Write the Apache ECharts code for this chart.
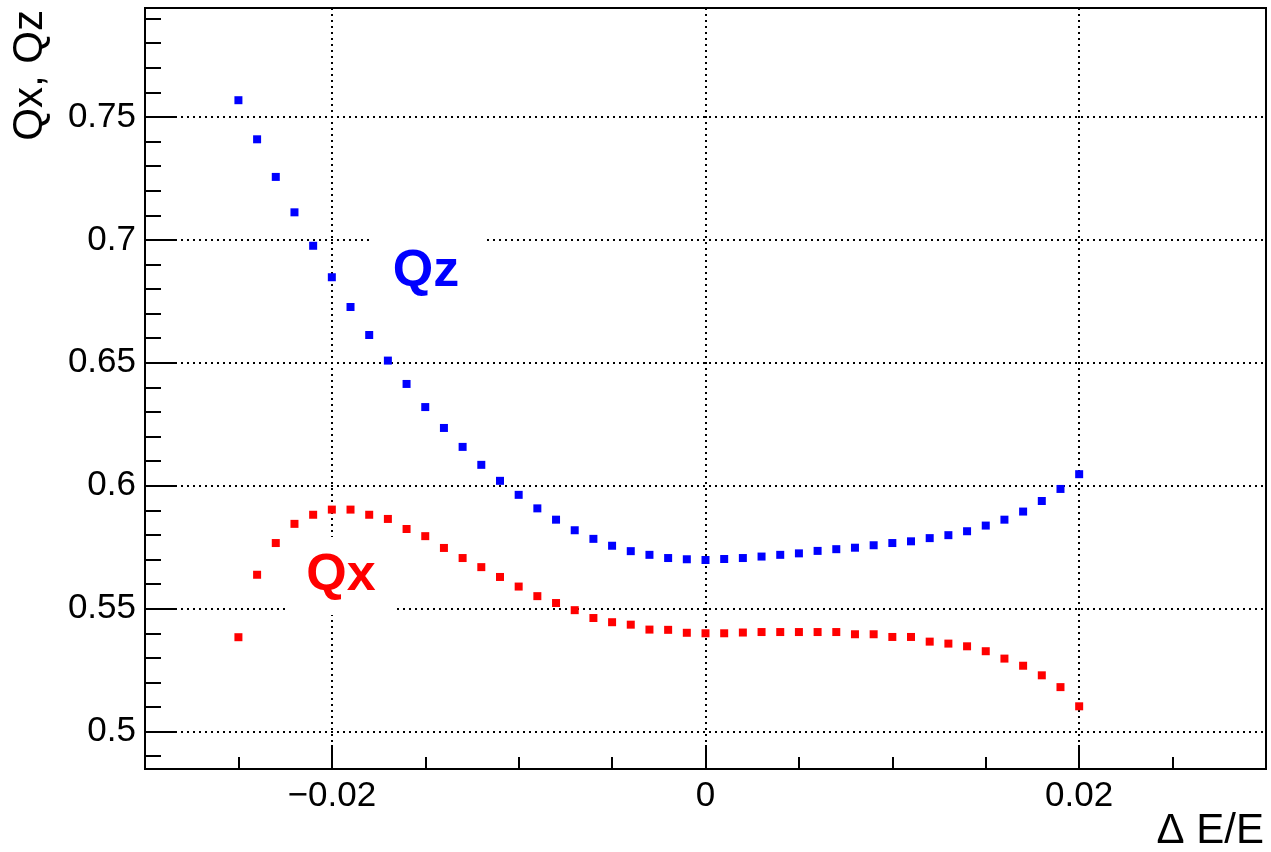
<!DOCTYPE html>
<html><head><meta charset="utf-8">
<script src="https://cdn.jsdelivr.net/npm/echarts@6/dist/echarts.min.js"></script>
<style>html,body{margin:0;padding:0;background:#fff}#c{width:1271px;height:852px}</style>
</head><body><div id="c"></div>
<script>
// ---- data ----
const dE = [-0.025,-0.024,-0.023,-0.022,-0.021,-0.020,-0.019,-0.018,-0.017,-0.016,
            -0.015,-0.014,-0.013,-0.012,-0.011,-0.010,-0.009,-0.008,-0.007,-0.006,
            -0.005,-0.004,-0.003,-0.002,-0.001,0.000,0.001,0.002,0.003,0.004,
            0.005,0.006,0.007,0.008,0.009,0.010,0.011,0.012,0.013,0.014,
            0.015,0.016,0.017,0.018,0.019,0.020];
const Qz = [0.7568,0.7409,0.7256,0.7112,0.6976,0.6848,0.6727,0.6613,0.6509,0.6414,
            0.6320,0.6235,0.6158,0.6085,0.6020,0.5963,0.5908,0.5862,0.5819,0.5784,
            0.5756,0.5734,0.5719,0.5706,0.5701,0.5698,0.5702,0.5706,0.5712,0.5719,
            0.5725,0.5735,0.5742,0.5748,0.5758,0.5767,0.5774,0.5787,0.5799,0.5815,
            0.5838,0.5862,0.5895,0.5938,0.5987,0.6047];
const Qx = [0.5384,0.5638,0.5767,0.5845,0.5882,0.5903,0.5903,0.5882,0.5865,0.5824,
            0.5795,0.5747,0.5706,0.5669,0.5629,0.5590,0.5551,0.5523,0.5494,0.5462,
            0.5445,0.5435,0.5415,0.5414,0.5402,0.5400,0.5400,0.5403,0.5405,0.5405,
            0.5405,0.5405,0.5405,0.5396,0.5396,0.5385,0.5385,0.5366,0.5358,0.5347,
            0.5327,0.5297,0.5268,0.5229,0.5181,0.5103];
const xRange = [-0.03, 0.03];
const yRange = [0.4848, 0.7943];
const xTitle = '\u0394 E/E';
const yTitle = 'Qx, Qz';
const labelQz = 'Qz';
const labelQx = 'Qx';

const FONT = '"Liberation Sans", Arial, Helvetica, sans-serif';
const dotted = {color: '#000', width: 2, type: [2, 4]};

const chart = echarts.init(document.getElementById('c'), null, {renderer: 'canvas'});
chart.setOption({
  backgroundColor: '#fff',
  animation: false,
  grid: {left: 145, right: 5, top: 8, bottom: 83, show: true, borderColor: '#000', borderWidth: 2, backgroundColor: 'transparent', containLabel: false},
  xAxis: {
    type: 'value', min: xRange[0], max: xRange[1], splitNumber: 3,
    axisLine: {show: true, onZero: false, lineStyle: {color: '#000', width: 2}},
    axisTick: {show: true, inside: true, length: 24, lineStyle: {color: '#000', width: 2}},
    minorTick: {show: true, splitNumber: 4, length: 12, lineStyle: {color: '#000', width: 2}},
    splitLine: {show: true, lineStyle: dotted},
    minorSplitLine: {show: false},
    axisLabel: {show: true, showMinLabel: false, showMaxLabel: false, margin: 10, color: '#000', fontSize: 35, fontFamily: FONT,
      formatter: v => (Math.abs(v) < 1e-9 ? '0' : String(+v.toFixed(4)).replace('-', '\u2212'))}
  },
  yAxis: {
    type: 'value', min: yRange[0], max: yRange[1], splitNumber: 6,
    axisLine: {show: true, onZero: false, lineStyle: {color: '#000', width: 2}},
    axisTick: {show: true, inside: true, length: 32, lineStyle: {color: '#000', width: 2}},
    minorTick: {show: true, splitNumber: 5, length: 16, lineStyle: {color: '#000', width: 2}},
    splitLine: {show: true, lineStyle: dotted},
    minorSplitLine: {show: false},
    axisLabel: {show: true, showMinLabel: false, showMaxLabel: false, margin: 9, color: '#000', fontSize: 35, fontFamily: FONT,
      formatter: v => String(+v.toFixed(4))}
  },
  series: [
    {name: 'Qz', type: 'scatter', symbol: 'rect', symbolSize: 8, itemStyle: {color: '#0000ff', opacity: 1},
     data: dE.map((x, i) => [x, Qz[i]]), z: 5},
    {name: 'Qx', type: 'scatter', symbol: 'rect', symbolSize: 8, itemStyle: {color: '#ff0000', opacity: 1},
     data: dE.map((x, i) => [x, Qx[i]]), z: 5}
  ],
  graphic: [
    {type: 'rect', z: 1, shape: {x: 370, y: 233, width: 115, height: 78}, style: {fill: '#fff'}},
    {type: 'rect', z: 1, shape: {x: 287, y: 537, width: 110, height: 78}, style: {fill: '#fff'}},
    {type: 'text', z: 10, x: 426, y: 272, style: {text: labelQz, fill: '#0000ff', fontSize: 52, fontWeight: 'bold', fontFamily: FONT, align: 'center', verticalAlign: 'middle'}},
    {type: 'text', z: 10, x: 341, y: 576, style: {text: labelQx, fill: '#ff0000', fontSize: 52, fontWeight: 'bold', fontFamily: FONT, align: 'center', verticalAlign: 'middle'}},
    {type: 'text', z: 10, x: 1264, y: 831, style: {text: xTitle, fill: '#000', fontSize: 42, fontFamily: FONT, align: 'right', verticalAlign: 'middle'}},
    {type: 'text', z: 10, x: 30, y: 10, rotation: Math.PI / 2, style: {text: yTitle, fill: '#000', fontSize: 42, fontFamily: FONT, align: 'right', verticalAlign: 'middle'}}
  ]
});
</script>
</body></html>
